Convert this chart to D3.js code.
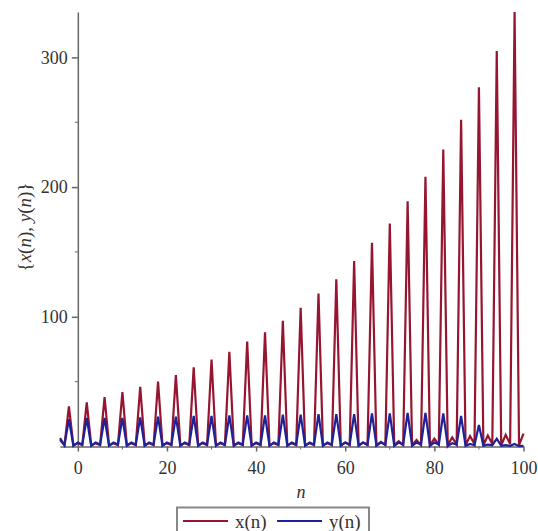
<!DOCTYPE html>
<html>
<head>
    <meta charset="utf-8">
    <script src='https://cdnjs.cloudflare.com/ajax/libs/d3/7.8.5/d3.min.js'></script>
    <style>
        body { margin: 0; background: #fff; }
        svg text { font-family: "Liberation Serif", "Times New Roman", Times, Tinos, "Noto Serif", "DejaVu Serif", FreeSerif, serif !important; fill: #333; }
    </style>
</head>
<body>
</body>
</html>
<script>

    // n runs from -4 to 100, one value per step
    var n_values = d3.range(-4, 101)

    // x(n): big spike every 4th step, small bumps in between
    var x_values = [
        5, 1, 31, 1, 2.5, 1, 34, 1, 2.5, 1, 38, 1, 2.5, 1, 42, 1, 2.5, 1, 46, 1,
        2.5, 1, 50, 1, 2.5, 1, 55, 1, 2.5, 1, 61, 1, 2.5, 1, 67, 1, 2.5, 1, 73, 1,
        2.5, 1, 81, 1, 2.5, 1, 88, 1, 2.5, 1, 97, 1, 2.5, 1, 107, 1, 2.5, 1, 118, 1,
        2.5, 1, 129, 1, 3, 1, 143, 1, 3, 1, 157, 1, 3.5, 1, 172, 1, 4, 1, 189, 1,
        5, 1, 208, 1, 6, 1.5, 229, 1, 7, 1.5, 252, 1, 8, 2, 277, 1, 8.5, 2, 305, 1,
        9, 2, 335, 1, 10
    ]

    // y(n)
    var y_values = [
        6.5, 1, 21, 0.5, 3, 1.5, 22, 0.5, 3, 1.5, 22, 0.5, 3, 1.5, 22, 0.5, 3, 1.5, 22.5, 0.5,
        3, 1.5, 23, 0.5, 3, 1.5, 23, 0.5, 3, 1.5, 23.5, 0.5, 3, 1.5, 23.5, 0.5, 3, 1.5, 24, 0.5,
        3, 1.5, 24, 0.5, 3, 1.5, 24, 0.5, 3, 1.5, 24.5, 0.5, 3, 1.5, 24.5, 0.5, 3, 1.5, 25, 0.5,
        3, 1.5, 25, 0.5, 3, 1.5, 25, 0.5, 3, 1.5, 25.5, 0.5, 3, 1.5, 25.5, 0.5, 3, 1.5, 26, 0.5,
        3, 1.5, 26, 0.5, 3, 1.5, 25.5, 0.5, 2.5, 1.5, 23.5, 0.5, 2, 1, 16.5, 0.5, 1.5, 1, 6, 0.5,
        1, 0.5, 2, 0.3, 0.5
    ]

    var x_ticks = [0, 20, 40, 60, 80, 100]
    var x_minor = [10, 30, 50, 70, 90]
    var y_ticks = [100, 200, 300]
    var y_minor = [50, 150, 250]

    var series_names = ['x(n)', 'y(n)']
    var series_colors = ['#961530', '#1e2299']

    var width = 538,
        height = 531

    var svg = d3.select('body').
    append('svg').
    attr('width', width).
    attr('height', height)

    var x = d3.scaleLinear().domain([-4, 100]).range([60, 523.5])
    var y = d3.scaleLinear().domain([0, 335]).range([446.5, 12])

    var axis_color = '#666'

    // x axis along y = 0
    var gx = svg.append('g').
    attr('transform', 'translate(0,' + y(0) + ')').
    call(d3.axisBottom(x).tickValues(x_ticks).tickSize(5).tickSizeOuter(0).tickPadding(6))
    gx.attr('font-family', null)
    gx.selectAll('.tick text').style('font-size', '18px').attr('dy', '0.9em')
    gx.append('g').
    selectAll('line').
    data(x_minor).
    enter().
    append('line').
    attr('x1', function(d) { return x(d) }).
    attr('x2', function(d) { return x(d) }).
    attr('y1', 0).
    attr('y2', 3).
    attr('stroke', axis_color)

    // y axis along n = 0
    var gy = svg.append('g').
    attr('transform', 'translate(' + x(0) + ',0)').
    call(d3.axisLeft(y).tickValues(y_ticks).tickSize(6).tickSizeOuter(0).tickPadding(4))
    gy.attr('font-family', null)
    gy.selectAll('.tick text').style('font-size', '18px')
    gy.append('g').
    selectAll('line').
    data(y_minor).
    enter().
    append('line').
    attr('x1', 0).
    attr('x2', -3).
    attr('y1', function(d) { return y(d) }).
    attr('y2', function(d) { return y(d) }).
    attr('stroke', axis_color)

    svg.selectAll('.domain, .tick line').attr('stroke', axis_color).attr('stroke-width', 1.5)
    svg.selectAll('.tick text').style('fill', '#333')

    // the two series
    var all_series = [x_values, y_values]
    var line = d3.line().
    x(function(d, i) { return x(n_values[i]) }).
    y(function(d) { return y(d) })

    all_series.forEach(function(values, k) {
        svg.append('path').
        datum(values).
        attr('fill', 'none').
        attr('stroke', series_colors[k]).
        attr('stroke-width', 2.2).
        attr('stroke-linejoin', 'miter').
        attr('d', line)
    })

    // axis labels
    svg.append('text').
    attr('x', 301).
    attr('y', 498).
    attr('text-anchor', 'middle').
    style('font-size', '18px').
    style('font-style', 'italic').
    text('n')

    var ylab = svg.append('text').
    attr('transform', 'translate(31,227) rotate(-90)').
    attr('text-anchor', 'middle').
    style('font-size', '19px')
    var parts = [['{', false], ['x', true], ['(', false], ['n', true], ['), ', false],
        ['y', true], ['(', false], ['n', true], [')}', false]]
    parts.forEach(function(p) {
        ylab.append('tspan').
        style('font-style', p[1] ? 'italic' : 'normal').
        text(p[0])
    })

    // legend
    var legend = svg.append('g')
    legend.append('rect').
    attr('x', 177).
    attr('y', 507.5).
    attr('width', 192).
    attr('height', 30).
    attr('fill', 'none').
    attr('stroke', '#888').
    attr('stroke-width', 2)
    var legend_x = [183, 277]
    series_names.forEach(function(name, k) {
        legend.append('line').
        attr('x1', legend_x[k]).
        attr('x2', legend_x[k] + 45).
        attr('y1', 521).
        attr('y2', 521).
        attr('stroke', series_colors[k]).
        attr('stroke-width', 2)
        legend.append('text').
        attr('x', legend_x[k] + 52).
        attr('y', 528).
        style('font-size', '19px').
        text(name)
    })
</script>
